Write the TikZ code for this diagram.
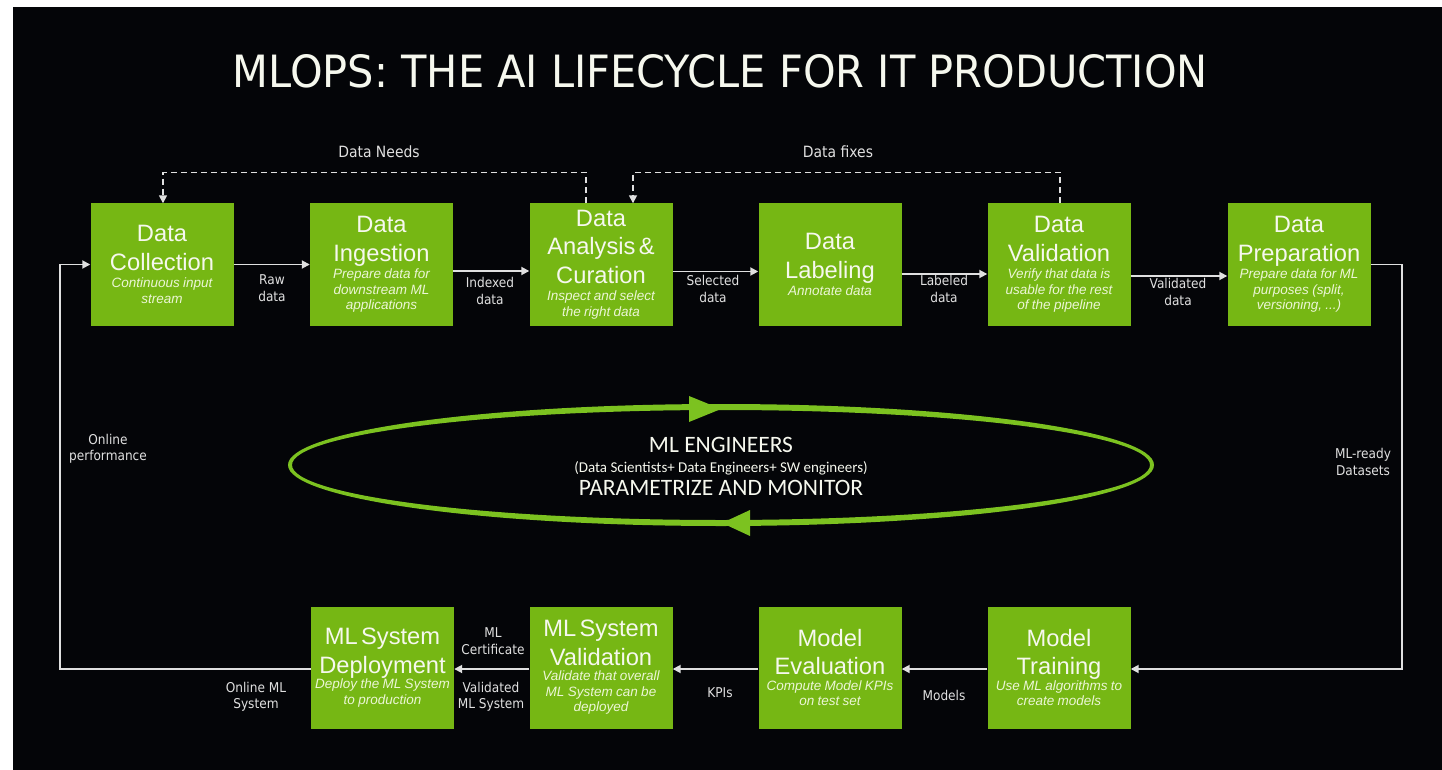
\documentclass[tikz,border=0pt]{standalone}
\usepackage{fontspec}
\usepackage{graphicx}
\setmainfont{Liberation Sans}
\newfontfamily\labfont{DejaVu Sans Condensed}
\newfontfamily\engfont{Carlito}
\usetikzlibrary{arrows.meta}
\definecolor{nvgreen}{RGB}{118,183,20}
\definecolor{ringgreen}{RGB}{124,194,32}
\definecolor{bgc}{RGB}{4,5,8}
\definecolor{linec}{RGB}{224,224,224}
\definecolor{subc}{RGB}{236,246,214}
\definecolor{ttlc}{RGB}{246,248,238}
\newcommand{\bxt}{\fontsize{23.7}{28.5}\selectfont\color{ttlc}}
\newcommand{\bxs}{\fontsize{13.5}{15.5}\selectfont\itshape\color{subc}}
\newcommand{\bx}[3][2pt]{{\bxt #2\par}\vspace{#1}{\bxs #3\par}}
\begin{document}
\begin{tikzpicture}[x=1pt,y=-1pt,
  box/.style={fill=nvgreen, minimum width=143pt, minimum height=122pt, text width=141pt, inner sep=0pt, align=center},
  conn/.style={draw=linec, line width=1.8pt, -{Triangle[length=8pt,width=8pt]}},
  dconn/.style={draw=linec, line width=1.6pt, dash pattern=on 6pt off 4pt, -{Triangle[length=8pt,width=8pt]}},
  lab/.style={text=linec, align=center, inner sep=0pt, font=\labfont\fontsize{13.5}{16.5}\selectfont},
  biglab/.style={text=linec, align=center, inner sep=0pt, font=\labfont\fontsize{15.5}{18}\selectfont},
  eng/.style={text=ttlc, inner sep=0pt, anchor=base}]
\fill[white] (0,0) rectangle (1442,770);
\fill[bgc] (13,7) rectangle (1442,770);
\useasboundingbox (0,0) rectangle (1442,770);

% title
\node[text=ttlc, inner sep=0pt] (title) at (720.5,71.5)
  {\resizebox{975pt}{33pt}{\labfont MLOPS: THE AI LIFECYCLE FOR IT PRODUCTION}};

% top row
\node[box] (coll)   at (162,264.5)   {\bx{Data\par Collection}{Continuous input\par stream}};
\node[box] (ingest) at (381.5,264.5) {\bx{Data\par Ingestion}{Prepare data for\par downstream ML\par applications}};
\node[box] (anal)   at (601,264.5)   {\bx{Data\par Analysis \&\par Curation}{Inspect and select\par the right data}};
\node[box] (label)  at (830,264.5)   {\bx{Data\par Labeling}{Annotate data}};
\node[box] (dval)   at (1059,264.5)  {\bx{Data\par Validation}{Verify that data is\par usable for the rest\par of the pipeline}};
\node[box] (prep)   at (1299,264.5)  {\bx{Data\par Preparation}{Prepare data for ML\par purposes (split,\par versioning, ...)}};

% bottom row
\node[box] (deploy) at (382.5,667.5) {\bx[0pt]{ML System\par Deployment}{Deploy the ML System\par to production}};
\node[box] (mlval)  at (601,667.5)   {\bx[0pt]{ML System\par Validation}{Validate that overall\par ML System can be\par deployed}};
\node[box] (eval)   at (830,667.5)   {\bx[0pt]{Model\par Evaluation}{Compute Model KPIs\par on test set}};
\node[box] (train)  at (1059,667.5)  {\bx[0pt]{Model\par Training}{Use ML algorithms to\par create models}};

% top row connectors
\draw[conn] (coll.east) -- (ingest.west);
\draw[conn] ([yshift=-6.5pt]ingest.east) -- ([yshift=-6.5pt]anal.west);
\draw[conn] ([yshift=-7pt]anal.east) -- ([yshift=-7pt]label.west);
\draw[conn] ([yshift=-9.5pt]label.east) -- ([yshift=-9.5pt]dval.west);
\draw[conn] ([yshift=-11.5pt]dval.east) -- ([yshift=-11.5pt]prep.west);

% right loop and bottom row
\coordinate (rx) at (1402,450);
\draw[conn] (prep.east) -| (rx) |- ([yshift=-1.5pt]train.east);
\draw[conn] ([yshift=-1.5pt]train.west) -- ([yshift=-1.5pt]eval.east);
\draw[conn] ([yshift=-1.5pt]eval.west) -- ([yshift=-1.5pt]mlval.east);
\draw[conn] ([yshift=-1.5pt]mlval.west) -- ([yshift=-1.5pt]deploy.east);

% left loop
\coordinate (lx) at (60,450);
\draw[conn] ([yshift=-1.5pt]deploy.west) -| (lx) |- (coll.west);

% dashed feedback
\coordinate (nd) at (586,172.5);
\coordinate (fx) at (1060,172.5);
\draw[dconn] ([xshift=-15pt]anal.north) -- (nd) -| ([xshift=1pt]coll.north);
\draw[dconn] ([xshift=1pt]dval.north) -- (fx) -| ([xshift=32pt]anal.north);

% labels
\node[biglab] (needsl) at (379,152) {Data Needs};
\node[biglab] (fixesl) at (838,152) {Data fixes};
\node[lab] (rawl)  at (272,288) {Raw\\data};
\node[lab] (idxl)  at (490,291) {Indexed\\data};
\node[lab] (sell)  at (713,289) {Selected\\data};
\node[lab] (labl)  at (944,289) {Labeled\\data};
\node[lab] (vall)  at (1178,292) {Validated\\data};
\node[lab] (mlrl)  at (1363,462) {ML-ready\\Datasets};
\node[lab] (onpl)  at (108,449) {Online\\performance};
\node[lab] (modl)  at (944,695) {Models};
\node[lab] (kpil)  at (720,693) {KPIs};
\node[lab] (certl) at (493,641) {ML\\Certificate};
\node[lab] (vmsl)  at (491,697) {Validated\\ML System};
\node[lab] (onml)  at (256,697) {Online ML\\System};

% central ring
\fill[ringgreen, even odd rule] (721,465) ellipse [x radius=433, y radius=61]
                                (721,465) ellipse [x radius=429, y radius=55];
\fill[ringgreen] (721,409) -- (689,396) -- (689,422) -- cycle;
\fill[ringgreen] (722,523) -- (750,510) -- (750,536) -- cycle;
\node[eng, font=\engfont\fontsize{23.5}{26}\selectfont] (enga) at (721,452) {ML ENGINEERS};
\node[eng, font=\engfont\fontsize{15}{17}\selectfont] (engb) at (721,472) {(Data Scientists+ Data Engineers+ SW engineers)};
\node[eng, font=\engfont\fontsize{23.5}{26}\selectfont] (engc) at (721,495) {PARAMETRIZE AND MONITOR};
\end{tikzpicture}
\end{document}
